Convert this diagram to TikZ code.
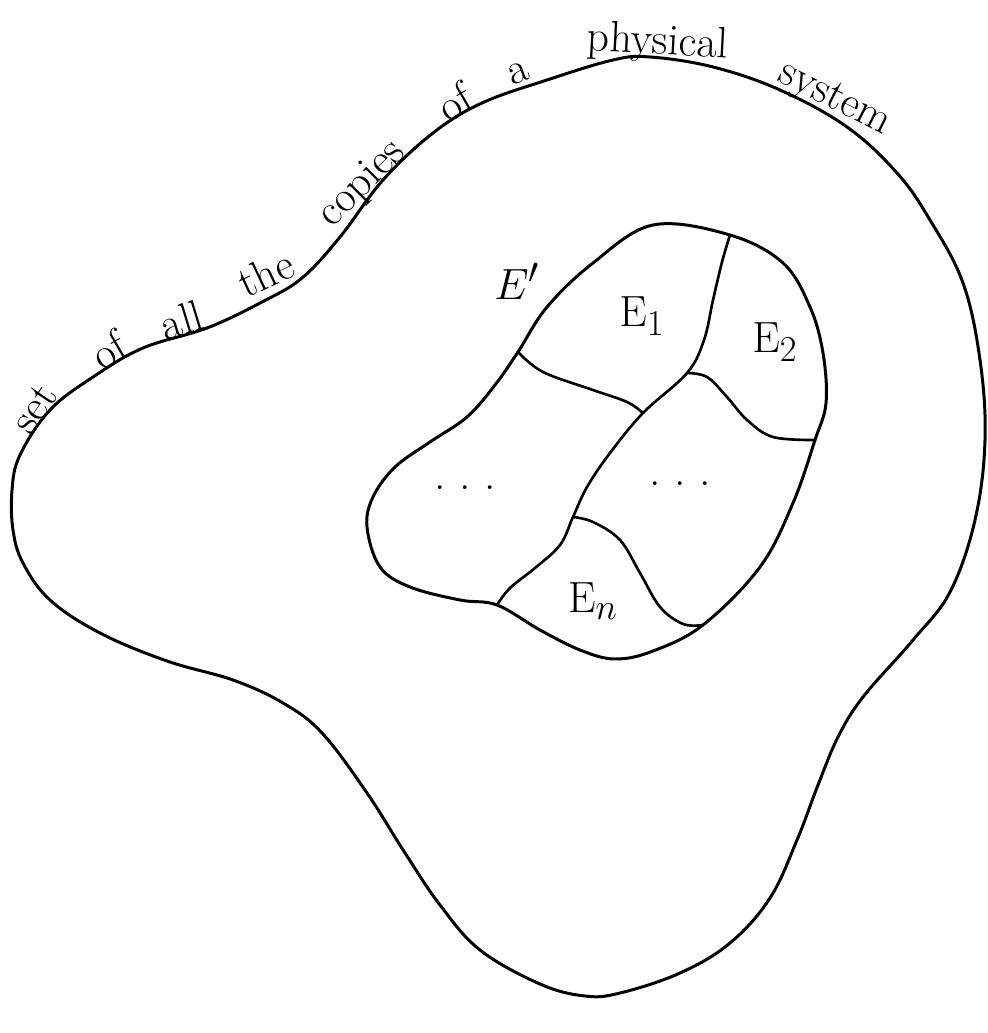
\documentclass[tikz,border=0pt]{standalone}
\begin{document}
\begin{tikzpicture}[x=0.02cm,y=-0.02cm, line join=round, line cap=round,
  blob/.style={draw=black, line width=1.7pt},
  divider/.style={draw=black, line width=1.5pt},
  lbl/.style={font=\fontsize{30}{32}\selectfont, inner sep=0pt},
  dotlbl/.style={font=\fontsize{26}{28}\selectfont, inner sep=0pt},
  pathtxt/.style={font=\fontsize{25}{27}\selectfont, inner sep=0pt, anchor=base}]
\useasboundingbox (0,0) rectangle (987,1033);

% outer set
\draw[blob] plot[smooth cycle, tension=0.62] coordinates {
 (12,490) (20,455) (50,410) (93,377) (143,348) (207,328) (262,302) (302,278)
 (340,237) (383,180) (433,133) (482,103) (547,80) (613,60) (650,57) (713,67)
 (780,90) (847,127) (897,173) (930,220) (963,283) (980,360) (985,440)
 (975,520) (950,592) (913,640) (863,697) (838,737) (818,785)
 (797,840) (770,898) (730,943) (680,973) (620,993) (585,996) (540,984)
 (480,950) (440,905) (405,853) (367,793) (322,733) (283,703) (233,680)
 (167,661) (100,633) (50,600) (23,563) (13,530)};

% text written along the outer boundary
\node[pathtxt, rotate=56] (w1) at (45,416) {set};
\node[pathtxt, rotate=30] (w2) at (116,363) {of};
\node[pathtxt, rotate=17] (w3) at (186,334) {all};
\node[pathtxt, rotate=25] (w4) at (272,287) {the};
\node[pathtxt, rotate=45] (w5) at (370,191) {copies};
\node[pathtxt, rotate=30] (w6) at (462,115) {of};
\node[pathtxt, rotate=20] (w7) at (522,82) {a};
\node[pathtxt, rotate=-3] (w8) at (657,54) {physical};
\node[pathtxt, rotate=-27] (w9) at (830,108) {system};

% junctions
\coordinate (jt) at (730,235);
\coordinate (jr1) at (815,440);
\coordinate (jr2) at (703,625);
\coordinate (jb) at (497,605);
\coordinate (jl) at (518,352);
\coordinate (j2) at (687,373);
\coordinate (j3) at (643,413);
\coordinate (j4) at (573,517);

% inner set E'
\draw[blob] plot[smooth cycle, tension=0.6] coordinates {
 (jl) (547,307) (593,263) (653,225) (jt) (783,263) (810,307) (823,353)
 (826,403) (jr1) (793,503) (760,567) (jr2) (653,651) (615,659) (580,650)
 (540,630) (jb) (460,600) (410,587) (380,567) (367,527) (373,497)
 (395,467) (430,442) (467,417) (495,385)};

% dividers
\draw[divider] plot[smooth, tension=0.6] coordinates {
 (jt) (722,262) (713,300) (704,340) (j2) (j3) (610,453) (587,487) (j4)
 (560,545) (535,568) (510,588) (jb)};
\draw[divider] plot[smooth, tension=0.6] coordinates {
 (jl) (543,372) (593,390) (627,402) (j3)};
\draw[divider] plot[smooth, tension=0.6] coordinates {
 (j2) (707,377) (727,397) (747,420) (773,437) (jr1)};
\draw[divider] plot[smooth, tension=0.6] coordinates {
 (j4) (593,522) (620,540) (640,573) (660,607) (683,624) (jr2)};

% labels
\node[lbl] (Eprime) at (517,281) {$E'$};
\node[lbl] (E1) at (642,316) {$\mathrm{E}_1$};
\node[lbl] (E2) at (775,342) {$\mathrm{E}_2$};
\node[lbl] (En) at (593,601) {$\mathrm{E}_n$};
\node[dotlbl] (dotsL) at (465,488) {.\ .\ .};
\node[dotlbl] (dotsR) at (680,484) {.\ .\ .};
\end{tikzpicture}
\end{document}
